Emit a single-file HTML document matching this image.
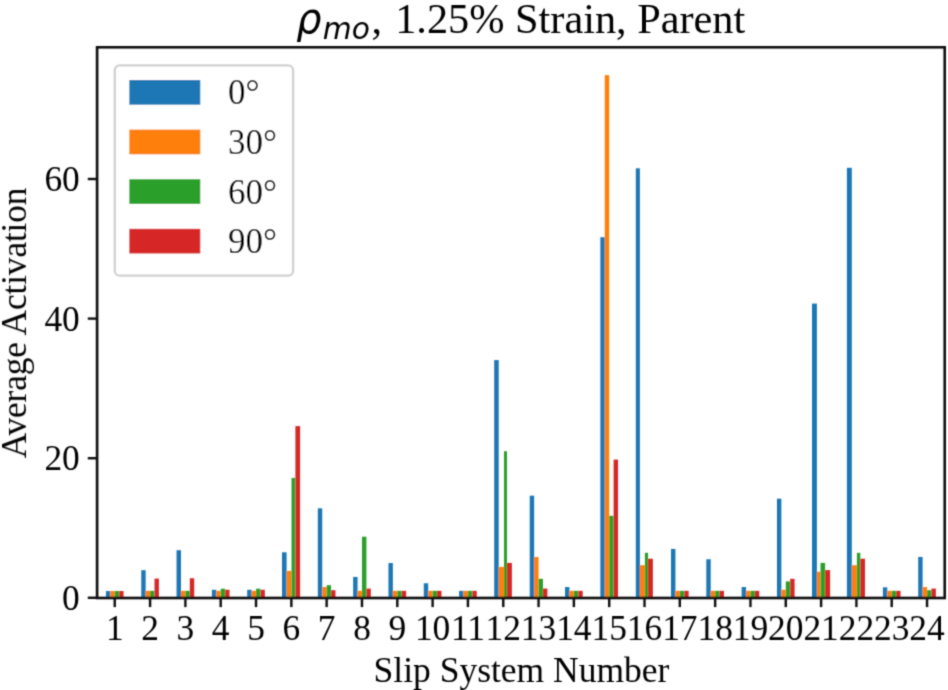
<!DOCTYPE html>
<html lang="en"><head><meta charset="utf-8"><title>Average Activation by Slip System</title>
<style>html,body{margin:0;padding:0;background:#fff}svg{display:block}text{font-family:"Liberation Serif","DejaVu Serif",serif;fill:#000}.t{font-size:35.4px}.l{font-size:35.5px}.ti{font-size:42.3px}.m{font-family:"DejaVu Sans","Liberation Sans",sans-serif;font-style:italic}</style></head><body>
<svg width="948" height="690" viewBox="0 0 948 690">
<defs><filter id="soft" x="0" y="0" width="948" height="690" filterUnits="userSpaceOnUse"><feConvolveMatrix order="3" kernelMatrix="0.03 0.115 0.03 0.115 0.42 0.115 0.03 0.115 0.03" divisor="1" edgeMode="duplicate" preserveAlpha="false"/></filter></defs>
<rect x="0" y="0" width="948" height="690" fill="#ffffff"/>
<g filter="url(#soft)">
<g>
<rect x="105.93" y="591.03" width="4.41" height="6.77" fill="#1f77b4"/>
<rect x="110.34" y="591.03" width="4.41" height="6.77" fill="#ff7f0e"/>
<rect x="114.76" y="591.03" width="4.41" height="6.77" fill="#2ca02c"/>
<rect x="119.17" y="591.03" width="4.41" height="6.77" fill="#d62728"/>
<rect x="141.25" y="570.16" width="4.41" height="27.64" fill="#1f77b4"/>
<rect x="145.66" y="590.82" width="4.41" height="6.98" fill="#ff7f0e"/>
<rect x="150.07" y="590.82" width="4.41" height="6.98" fill="#2ca02c"/>
<rect x="154.49" y="578.60" width="4.41" height="19.20" fill="#d62728"/>
<rect x="176.56" y="550.20" width="4.41" height="47.60" fill="#1f77b4"/>
<rect x="180.98" y="590.82" width="4.41" height="6.98" fill="#ff7f0e"/>
<rect x="185.39" y="590.82" width="4.41" height="6.98" fill="#2ca02c"/>
<rect x="189.81" y="578.26" width="4.41" height="19.54" fill="#d62728"/>
<rect x="211.88" y="589.77" width="4.41" height="8.03" fill="#1f77b4"/>
<rect x="216.29" y="590.82" width="4.41" height="6.98" fill="#ff7f0e"/>
<rect x="220.71" y="588.73" width="4.41" height="9.07" fill="#2ca02c"/>
<rect x="225.12" y="589.77" width="4.41" height="8.03" fill="#d62728"/>
<rect x="247.20" y="589.77" width="4.41" height="8.03" fill="#1f77b4"/>
<rect x="251.61" y="590.82" width="4.41" height="6.98" fill="#ff7f0e"/>
<rect x="256.02" y="588.73" width="4.41" height="9.07" fill="#2ca02c"/>
<rect x="260.44" y="589.77" width="4.41" height="8.03" fill="#d62728"/>
<rect x="282.00" y="552.29" width="4.60" height="45.51" fill="#1f77b4"/>
<rect x="286.60" y="570.86" width="4.90" height="26.94" fill="#ff7f0e"/>
<rect x="291.50" y="477.88" width="3.90" height="119.92" fill="#2ca02c"/>
<rect x="295.40" y="426.09" width="4.70" height="171.71" fill="#d62728"/>
<rect x="317.83" y="508.32" width="4.41" height="89.48" fill="#1f77b4"/>
<rect x="322.24" y="587.05" width="4.41" height="10.75" fill="#ff7f0e"/>
<rect x="326.66" y="585.17" width="4.41" height="12.63" fill="#2ca02c"/>
<rect x="331.07" y="590.19" width="4.41" height="7.61" fill="#d62728"/>
<rect x="353.15" y="576.93" width="4.41" height="20.87" fill="#1f77b4"/>
<rect x="357.56" y="590.82" width="4.41" height="6.98" fill="#ff7f0e"/>
<rect x="361.98" y="536.72" width="4.41" height="61.08" fill="#2ca02c"/>
<rect x="366.39" y="588.59" width="4.41" height="9.21" fill="#d62728"/>
<rect x="388.46" y="563.04" width="4.41" height="34.76" fill="#1f77b4"/>
<rect x="392.88" y="590.82" width="4.41" height="6.98" fill="#ff7f0e"/>
<rect x="397.29" y="590.82" width="4.41" height="6.98" fill="#2ca02c"/>
<rect x="401.71" y="590.82" width="4.41" height="6.98" fill="#d62728"/>
<rect x="423.78" y="583.28" width="4.41" height="14.52" fill="#1f77b4"/>
<rect x="428.19" y="590.82" width="4.41" height="6.98" fill="#ff7f0e"/>
<rect x="432.61" y="590.82" width="4.41" height="6.98" fill="#2ca02c"/>
<rect x="437.02" y="590.82" width="4.41" height="6.98" fill="#d62728"/>
<rect x="459.10" y="590.82" width="4.41" height="6.98" fill="#1f77b4"/>
<rect x="463.51" y="590.82" width="4.41" height="6.98" fill="#ff7f0e"/>
<rect x="467.93" y="590.82" width="4.41" height="6.98" fill="#2ca02c"/>
<rect x="472.34" y="590.82" width="4.41" height="6.98" fill="#d62728"/>
<rect x="494.20" y="360.06" width="4.50" height="237.74" fill="#1f77b4"/>
<rect x="498.70" y="566.88" width="5.30" height="30.92" fill="#ff7f0e"/>
<rect x="504.00" y="451.22" width="3.00" height="146.58" fill="#2ca02c"/>
<rect x="507.00" y="562.90" width="4.90" height="34.90" fill="#d62728"/>
<rect x="529.73" y="495.68" width="4.41" height="102.12" fill="#1f77b4"/>
<rect x="534.14" y="556.97" width="4.41" height="40.83" fill="#ff7f0e"/>
<rect x="538.56" y="578.81" width="4.41" height="18.99" fill="#2ca02c"/>
<rect x="542.97" y="588.59" width="4.41" height="9.21" fill="#d62728"/>
<rect x="565.05" y="587.05" width="4.41" height="10.75" fill="#1f77b4"/>
<rect x="569.46" y="590.82" width="4.41" height="6.98" fill="#ff7f0e"/>
<rect x="573.88" y="590.82" width="4.41" height="6.98" fill="#2ca02c"/>
<rect x="578.29" y="590.82" width="4.41" height="6.98" fill="#d62728"/>
<rect x="600.36" y="237.21" width="4.41" height="360.59" fill="#1f77b4"/>
<rect x="604.78" y="75.14" width="4.41" height="522.66" fill="#ff7f0e"/>
<rect x="609.19" y="515.78" width="4.41" height="82.02" fill="#2ca02c"/>
<rect x="613.61" y="459.60" width="4.41" height="138.20" fill="#d62728"/>
<rect x="635.80" y="168.32" width="4.10" height="429.48" fill="#1f77b4"/>
<rect x="639.90" y="565.20" width="5.00" height="32.60" fill="#ff7f0e"/>
<rect x="644.90" y="552.78" width="3.10" height="45.02" fill="#2ca02c"/>
<rect x="648.00" y="558.71" width="4.90" height="39.09" fill="#d62728"/>
<rect x="671.00" y="548.94" width="4.41" height="48.86" fill="#1f77b4"/>
<rect x="675.41" y="590.82" width="4.41" height="6.98" fill="#ff7f0e"/>
<rect x="679.83" y="590.82" width="4.41" height="6.98" fill="#2ca02c"/>
<rect x="684.24" y="590.82" width="4.41" height="6.98" fill="#d62728"/>
<rect x="706.31" y="559.27" width="4.41" height="38.53" fill="#1f77b4"/>
<rect x="710.73" y="590.82" width="4.41" height="6.98" fill="#ff7f0e"/>
<rect x="715.14" y="590.82" width="4.41" height="6.98" fill="#2ca02c"/>
<rect x="719.56" y="590.82" width="4.41" height="6.98" fill="#d62728"/>
<rect x="741.63" y="587.05" width="4.41" height="10.75" fill="#1f77b4"/>
<rect x="746.04" y="590.82" width="4.41" height="6.98" fill="#ff7f0e"/>
<rect x="750.46" y="590.82" width="4.41" height="6.98" fill="#2ca02c"/>
<rect x="754.87" y="590.82" width="4.41" height="6.98" fill="#d62728"/>
<rect x="776.95" y="498.68" width="4.41" height="99.12" fill="#1f77b4"/>
<rect x="781.36" y="589.77" width="4.41" height="8.03" fill="#ff7f0e"/>
<rect x="785.78" y="581.40" width="4.41" height="16.40" fill="#2ca02c"/>
<rect x="790.19" y="578.81" width="4.41" height="18.99" fill="#d62728"/>
<rect x="812.00" y="303.59" width="4.90" height="294.21" fill="#1f77b4"/>
<rect x="816.90" y="571.69" width="3.60" height="26.11" fill="#ff7f0e"/>
<rect x="820.50" y="562.90" width="4.60" height="34.90" fill="#2ca02c"/>
<rect x="825.10" y="570.09" width="5.00" height="27.71" fill="#d62728"/>
<rect x="846.90" y="167.83" width="4.90" height="429.97" fill="#1f77b4"/>
<rect x="851.80" y="565.20" width="5.10" height="32.60" fill="#ff7f0e"/>
<rect x="856.90" y="552.78" width="3.40" height="45.02" fill="#2ca02c"/>
<rect x="860.30" y="558.71" width="4.70" height="39.09" fill="#d62728"/>
<rect x="882.90" y="587.33" width="4.41" height="10.47" fill="#1f77b4"/>
<rect x="887.31" y="590.82" width="4.41" height="6.98" fill="#ff7f0e"/>
<rect x="891.73" y="590.82" width="4.41" height="6.98" fill="#2ca02c"/>
<rect x="896.14" y="590.82" width="4.41" height="6.98" fill="#d62728"/>
<rect x="918.21" y="556.97" width="4.41" height="40.83" fill="#1f77b4"/>
<rect x="922.63" y="587.05" width="4.41" height="10.75" fill="#ff7f0e"/>
<rect x="927.04" y="590.19" width="4.41" height="7.61" fill="#2ca02c"/>
<rect x="931.46" y="588.59" width="4.41" height="9.21" fill="#d62728"/>
</g>
<g stroke="#0c0c0c" stroke-width="2.4" fill="none">
<line x1="114.76" y1="597.80" x2="114.76" y2="607.10"/>
<line x1="150.07" y1="597.80" x2="150.07" y2="607.10"/>
<line x1="185.39" y1="597.80" x2="185.39" y2="607.10"/>
<line x1="220.71" y1="597.80" x2="220.71" y2="607.10"/>
<line x1="256.02" y1="597.80" x2="256.02" y2="607.10"/>
<line x1="291.34" y1="597.80" x2="291.34" y2="607.10"/>
<line x1="326.66" y1="597.80" x2="326.66" y2="607.10"/>
<line x1="361.98" y1="597.80" x2="361.98" y2="607.10"/>
<line x1="397.29" y1="597.80" x2="397.29" y2="607.10"/>
<line x1="432.61" y1="597.80" x2="432.61" y2="607.10"/>
<line x1="467.93" y1="597.80" x2="467.93" y2="607.10"/>
<line x1="503.24" y1="597.80" x2="503.24" y2="607.10"/>
<line x1="538.56" y1="597.80" x2="538.56" y2="607.10"/>
<line x1="573.88" y1="597.80" x2="573.88" y2="607.10"/>
<line x1="609.19" y1="597.80" x2="609.19" y2="607.10"/>
<line x1="644.51" y1="597.80" x2="644.51" y2="607.10"/>
<line x1="679.83" y1="597.80" x2="679.83" y2="607.10"/>
<line x1="715.14" y1="597.80" x2="715.14" y2="607.10"/>
<line x1="750.46" y1="597.80" x2="750.46" y2="607.10"/>
<line x1="785.78" y1="597.80" x2="785.78" y2="607.10"/>
<line x1="821.09" y1="597.80" x2="821.09" y2="607.10"/>
<line x1="856.41" y1="597.80" x2="856.41" y2="607.10"/>
<line x1="891.73" y1="597.80" x2="891.73" y2="607.10"/>
<line x1="927.04" y1="597.80" x2="927.04" y2="607.10"/>
<line x1="87.80" y1="597.80" x2="97.10" y2="597.80"/>
<line x1="87.80" y1="458.20" x2="97.10" y2="458.20"/>
<line x1="87.80" y1="318.60" x2="97.10" y2="318.60"/>
<line x1="87.80" y1="179.00" x2="97.10" y2="179.00"/>
<rect x="97.1" y="47.3" width="847.60" height="550.70" stroke-width="2.6"/>
</g>
<g class="t" text-anchor="middle">
<text x="114.76" y="639.6">1</text>
<text x="150.07" y="639.6">2</text>
<text x="185.39" y="639.6">3</text>
<text x="220.71" y="639.6">4</text>
<text x="256.02" y="639.6">5</text>
<text x="291.34" y="639.6">6</text>
<text x="326.66" y="639.6">7</text>
<text x="361.98" y="639.6">8</text>
<text x="397.29" y="639.6">9</text>
<text x="432.61" y="639.6">10</text>
<text x="467.93" y="639.6">11</text>
<text x="503.24" y="639.6">12</text>
<text x="538.56" y="639.6">13</text>
<text x="573.88" y="639.6">14</text>
<text x="609.19" y="639.6">15</text>
<text x="644.51" y="639.6">16</text>
<text x="679.83" y="639.6">17</text>
<text x="715.14" y="639.6">18</text>
<text x="750.46" y="639.6">19</text>
<text x="785.78" y="639.6">20</text>
<text x="821.09" y="639.6">21</text>
<text x="856.41" y="639.6">22</text>
<text x="891.73" y="639.6">23</text>
<text x="927.04" y="639.6">24</text>
</g>
<g class="t" text-anchor="end">
<text x="79.8" y="609.70">0</text>
<text x="79.8" y="470.10">20</text>
<text x="79.8" y="330.50">40</text>
<text x="79.8" y="190.90">60</text>
</g>
<text class="l" text-anchor="middle" x="521.5" y="682">Slip System Number</text>
<text class="l" text-anchor="middle" letter-spacing="-0.2" transform="translate(26,323.1) rotate(-90)">Average Activation</text>
<text class="ti m" transform="translate(296.3,32.8) scale(0.94,1)">ρ</text>
<text class="m" font-size="29.7px" x="322.8" y="38.6">mo</text>
<text class="ti" y="32.8"><tspan x="371.4">,</tspan><tspan x="395.2">1.25% Strain, Parent</tspan></text>
<rect x="114.8" y="65.4" width="178.3" height="210.3" rx="5" ry="5" fill="#fff" fill-opacity="0.8" stroke="#cccccc" stroke-opacity="0.9" stroke-width="2.3"/>
<rect x="129.3" y="80.00" width="71" height="24.7" fill="#1f77b4"/>
<text class="l" style="font-size:35px" x="227.9" y="104.30">0°</text>
<rect x="129.3" y="129.60" width="71" height="24.7" fill="#ff7f0e"/>
<text class="l" style="font-size:35px" x="227.9" y="153.90">30°</text>
<rect x="129.3" y="179.20" width="71" height="24.7" fill="#2ca02c"/>
<text class="l" style="font-size:35px" x="227.9" y="203.50">60°</text>
<rect x="129.3" y="228.80" width="71" height="24.7" fill="#d62728"/>
<text class="l" style="font-size:35px" x="227.9" y="253.10">90°</text>
</g>
</svg></body></html>
